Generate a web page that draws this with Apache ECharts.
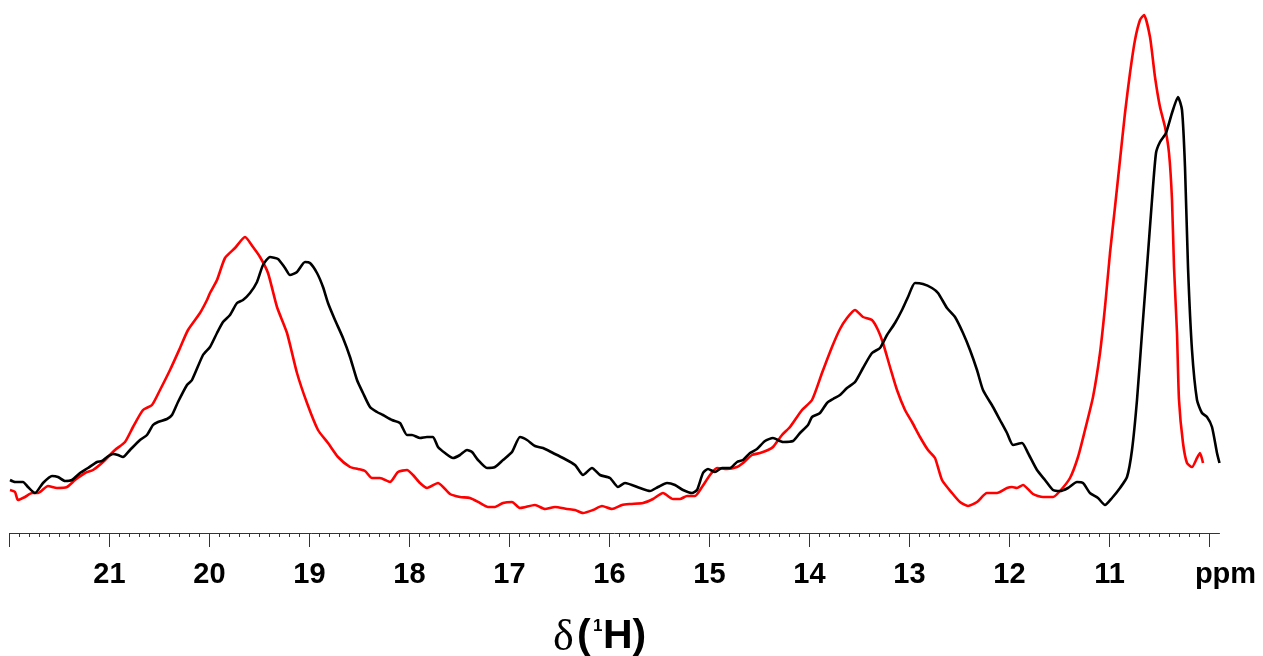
<!DOCTYPE html>
<html>
<head>
    <meta charset="UTF-8">
    <title>1H spectrum</title>
    <script type="text/javascript" src="https://cdn.jsdelivr.net/npm/echarts@6/dist/echarts.min.js"></script>
</head>
<style>
    html, body { margin: 0; padding: 0; background: #fff; }
    .main { width: 1263px; height: 656px; }
</style>
<body>
<div id="charts" class="main"></div>
<script type="text/javascript">
    // black trace
    var blackPpm = [21.995,21.945,21.865,21.815,21.745,21.665,21.575,21.515,21.445,21.375,
        21.295,21.215,21.125,21.075,21.025,20.965,20.915,20.865,20.795,20.695,
        20.625,20.565,20.515,20.425,20.375,20.315,20.225,20.175,20.065,19.995,
        19.925,19.865,19.795,19.725,19.665,19.595,19.525,19.465,19.395,19.315,
        19.245,19.195,19.125,19.045,18.995,18.925,18.865,18.815,18.745,18.665,
        18.595,18.525,18.465,18.395,18.325,18.265,18.175,18.095,18.025,17.975,
        17.895,17.825,17.765,17.715,17.645,17.565,17.495,17.425,17.375,17.315,
        17.225,17.145,17.065,16.975,16.895,16.825,16.745,16.665,16.565,16.465,
        16.345,16.265,16.175,16.095,15.995,15.915,15.845,15.695,15.595,15.515,
        15.425,15.345,15.265,15.175,15.125,15.065,15.015,14.945,14.875,14.795,
        14.725,14.665,14.595,14.525,14.445,14.365,14.265,14.165,14.095,14.015,
        13.975,13.895,13.825,13.765,13.695,13.625,13.545,13.465,13.375,13.295,
        13.225,13.145,13.075,13.015,12.945,12.865,12.775,12.715,12.625,12.545,
        12.465,12.395,12.325,12.265,12.165,12.095,12.025,11.965,11.875,11.815,
        11.725,11.645,11.565,11.495,11.415,11.325,11.265,11.195,11.115,11.045,
        10.975,10.895,10.825,10.775,10.725,10.675,10.625,10.575,10.535,10.495,
        10.435,10.375,10.315,10.275,10.245,10.215,10.175,10.125,10.075,10.025,
        9.975,9.925,9.9];
    var blackInt = [53,51,51,46,40,50,57,56,52,53,
        60,65,71,72,76,79,78,76,83,93,
        98,108,111,114,118,131,148,153,178,186,
        200,211,218,230,233,240,251,268,276,274,
        265,258,261,271,270,260,246,230,213,195,
        176,153,140,126,121,118,113,110,98,98,
        95,96,96,86,80,75,78,83,81,73,
        65,66,73,81,96,93,87,85,80,75,
        68,58,65,58,55,46,50,45,42,46,
        50,48,43,40,43,60,64,61,65,65,
        71,73,80,84,92,95,91,92,100,108,
        116,120,130,134,138,145,151,165,180,185,
        198,210,223,236,250,249,245,240,225,216,
        200,183,163,143,126,113,100,88,90,80,
        63,53,43,42,45,51,50,40,35,28,
        35,45,56,83,133,200,266,333,380,391,
        400,420,436,423,366,266,183,133,120,116,
        106,80,70];

    // red trace
    var redPpm = [21.995,21.945,21.915,21.845,21.775,21.715,21.615,21.525,21.425,21.345,
        21.245,21.165,21.065,20.945,20.845,20.765,20.665,20.575,20.495,20.395,
        20.295,20.215,20.095,20.025,19.995,19.925,19.845,19.745,19.645,19.565,
        19.495,19.415,19.325,19.225,19.125,19.025,18.915,18.815,18.715,18.595,
        18.515,18.445,18.375,18.295,18.195,18.115,18.025,17.965,17.895,17.825,
        17.715,17.595,17.495,17.395,17.295,17.215,17.145,17.065,16.975,16.895,
        16.745,16.645,16.545,16.425,16.345,16.265,16.165,16.075,15.975,15.875,
        15.795,15.665,15.565,15.465,15.365,15.295,15.225,15.145,15.075,14.995,
        14.925,14.825,14.725,14.665,14.575,14.495,14.415,14.365,14.275,14.195,
        14.075,13.975,13.875,13.775,13.695,13.625,13.545,13.465,13.375,13.315,
        13.265,13.195,13.125,13.045,12.975,12.895,12.815,12.745,12.675,12.575,
        12.495,12.415,12.325,12.225,12.125,12.025,11.975,11.925,11.865,11.765,
        11.665,11.565,11.495,11.395,11.315,11.245,11.165,11.095,11.045,10.995,
        10.945,10.895,10.845,10.795,10.745,10.695,10.655,10.595,10.545,10.495,
        10.445,10.405,10.375,10.355,10.325,10.305,10.265,10.225,10.175,10.125,
        10.095,10.065];
    var redInt = [43,41,33,36,40,40,47,45,46,53,
        60,63,71,83,91,106,123,128,143,163,
        185,203,220,233,240,253,275,285,296,286,
        276,260,226,200,160,130,103,90,76,66,
        64,62,55,55,51,61,63,58,50,45,
        50,39,36,35,30,26,26,30,31,25,
        28,24,26,24,23,20,23,27,24,28,
        29,30,34,40,34,34,37,37,46,58,
        65,64,66,70,78,80,83,86,98,106,
        123,133,160,186,204,215,223,216,213,203,
        190,166,143,123,111,96,83,75,53,40,
        31,27,31,40,40,45,46,45,48,39,
        36,36,42,55,76,103,136,180,226,280,
        326,373,420,460,493,513,518,496,456,426,
        406,380,333,266,200,133,90,70,66,75,
        80,70];

    var majorTicks = [10,11,12,13,14,15,16,17,18,19,20,21,22];
    var tickLabels = [10,11,12,13,14,15,16,17,18,19,20,21];

    function pairs(xs, ys) {
        var out = [];
        for (var i = 0; i < xs.length; i++) out.push([xs[i], ys[i]]);
        return out;
    }

    var minorTicks = [];
    for (var k = 101; k < 220; k++) {
        if (k % 10 !== 0) minorTicks.push(k / 10);
    }

    var myChart = echarts.init(document.getElementById('charts'), null, {renderer: 'canvas'});
    var font = "'Liberation Sans', Arial, sans-serif";

    var option = {
        animation: false,
        backgroundColor: '#fff',
        grid: {left: 9.5, right: 43.5, top: 0, bottom: 123},
        xAxis: [
            {
                type: 'value', min: 9.9, max: 22, inverse: true, position: 'bottom',
                splitLine: {show: false},
                axisLine: {show: true, lineStyle: {color: '#333', width: 1}},
                axisTick: {show: true, customValues: majorTicks, length: 14, lineStyle: {color: '#333', width: 1}},
                axisLabel: {
                    customValues: tickLabels, margin: 27,
                    color: '#000', fontFamily: font, fontWeight: 'bold', fontSize: 29,
                    formatter: function (v) { return v === 10 ? '{u|ppm}' : String(v); },
                    rich: {u: {color: '#000', fontFamily: font, fontWeight: 'bold', fontSize: 29, padding: [0, 0, 0, 32]}}
                }
            },
            {
                type: 'value', min: 9.9, max: 22, inverse: true, position: 'bottom',
                splitLine: {show: false},
                axisLine: {show: false},
                axisTick: {show: true, customValues: minorTicks, length: 4, lineStyle: {color: '#333', width: 1}},
                axisLabel: {show: false}
            }
        ],
        yAxis: {type: 'value', min: 0, max: 533, show: false},
        series: [
            {
                type: 'line', name: 'black', data: pairs(blackPpm, blackInt),
                showSymbol: false, smooth: 0.2, lineStyle: {color: '#000', width: 2.6}, z: 3
            },
            {
                type: 'line', name: 'red', data: pairs(redPpm, redInt),
                showSymbol: false, smooth: 0.2, lineStyle: {color: '#ff0000', width: 2.6}, z: 2
            }
        ],
        graphic: [
            {type: 'text', left: 553, top: 616, style: {text: 'δ', font: "44px 'Liberation Serif', serif", fill: '#000'}},
            {type: 'text', left: 577, top: 616, style: {text: '(', font: "bold 41px " + font, fill: '#000'}},
            {type: 'text', left: 593, top: 618, style: {text: '1', font: "bold 17px " + font, fill: '#000'}},
            {type: 'text', left: 603, top: 616, style: {text: 'H)', font: "bold 41px " + font, fill: '#000'}}
        ]
    };

    myChart.setOption(option);
</script>
</body>
</html>
